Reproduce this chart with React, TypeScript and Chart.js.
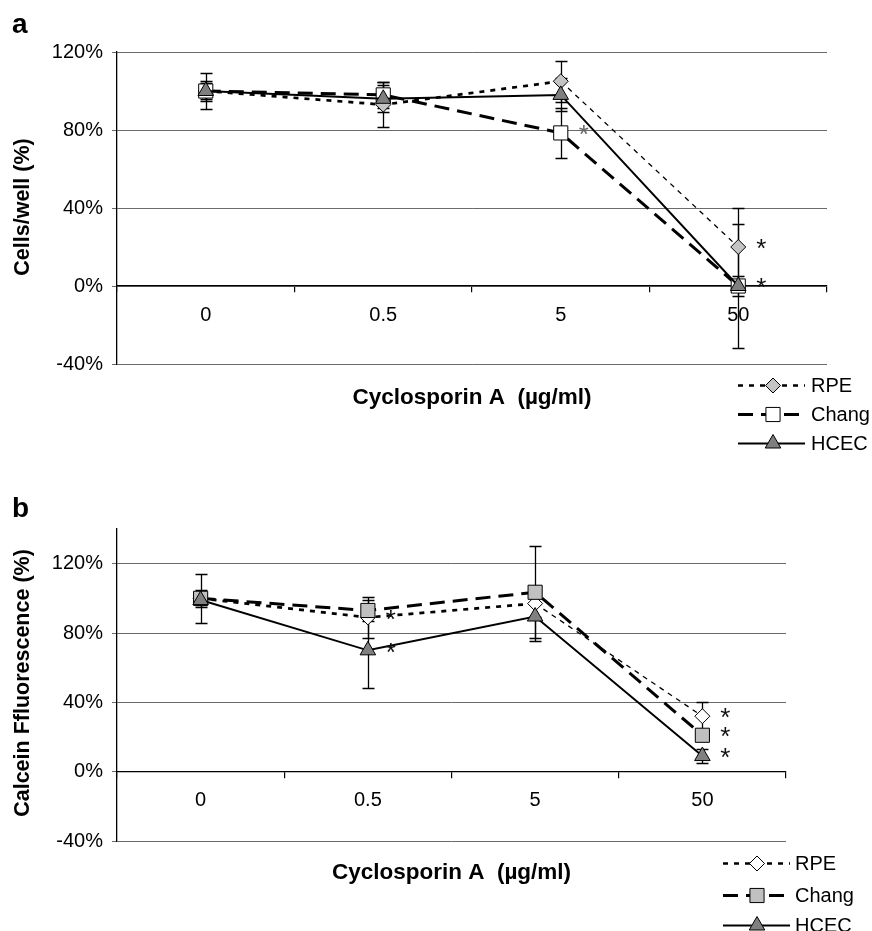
import React, { useEffect, useRef } from 'react';
import { Chart, registerables } from 'chart.js';

Chart.register(...registerables);

// ---------- data ----------
const categories = ['0', '0.5', '5', '50'];
const seriesNames = ['RPE', 'Chang', 'HCEC'];
const yTickValues = [-40, 0, 40, 80, 120];

// panel a: cells/well (%)
const rpeA = [100, 93, 105, 20];
const changA = [100, 98, 78.5, 0];
const hcecA = [100, 96, 98, 0];
const rpeErrA = [4, 11.5, 10.5, 20];
const changErrA = [5, 6.5, 13, 32];
const hcecErrA = [9, 7, 8.5, 5];
// significant points: [series index, category index]
const sigA = [[1, 2], [0, 3], [1, 3]];

// panel b: calcein fluorescence (%)
const rpeB = [100, 89, 97, 32];
const changB = [100, 93, 103.5, 21];
const hcecB = [99, 70, 89.5, 9];
const rpeErrB = [5, 12, 8, 8];
const changErrB = [14, 6, 26.5, 3];
const hcecErrB = [3, 21.5, 14, 4];
const sigB = [[0, 1], [2, 1], [0, 3], [1, 3], [2, 3]];

// ---------- styling ----------
const FONT = "'Liberation Sans', Arial, Helvetica, sans-serif";

type Cfg = {
  series: number[][];
  errs: number[][];
  sig: number[][];
  sigColors: string[];
  yMax: number;
  yTitle: string;
  panel: string;
  fills: string[];
  width: number;
  height: number;
  pad: { top: number; right: number; bottom: number };
  xTitleY: number;
  yTitleY: number;
  panelY: number;
  legend: { x0: number; x1: number; cx: number; tx: number; rows: number[] };
};

const seriesStyles = [
  { pointStyle: 'rectRot', radius: 7.5, dash: [5, 6], width: 2.7 },
  { pointStyle: 'rect', radius: 10, dash: [15, 8], width: 3 },
  { pointStyle: 'triangle', radius: 9, dash: [] as number[], width: 2 },
];

const cfgA: Cfg = {
  series: [rpeA, changA, hcecA],
  errs: [rpeErrA, changErrA, hcecErrA],
  sig: sigA,
  sigColors: ['#666', '#111', '#111'],
  yMax: 120,
  yTitle: 'Cells/well (%)',
  panel: 'a',
  fills: ['#c4c4c4', '#ffffff', '#7f7f7f'],
  width: 872,
  height: 460,
  pad: { top: 52, right: 45, bottom: 96 },
  xTitleY: 398,
  yTitleY: 207,
  panelY: 33,
  legend: { x0: 738, x1: 805, cx: 773, tx: 811, rows: [385, 414, 443] },
};

const cfgB: Cfg = {
  series: [rpeB, changB, hcecB],
  errs: [rpeErrB, changErrB, hcecErrB],
  sig: sigB,
  sigColors: ['#111', '#111', '#111', '#111', '#111'],
  yMax: 140,
  yTitle: 'Calcein Ffluorescence (%)',
  panel: 'b',
  fills: ['#ffffff', '#c0c0c0', '#808080'],
  width: 872,
  height: 491,
  pad: { top: 89, right: 86, bottom: 90 },
  xTitleY: 433,
  yTitleY: 243,
  panelY: 77,
  legend: { x0: 723, x1: 790, cx: 757, tx: 795, rows: [423, 455, 485] },
};

function drawMarker(ctx: CanvasRenderingContext2D, style: string, x: number, y: number, r: number, fill: string) {
  ctx.beginPath();
  if (style === 'rectRot') {
    ctx.moveTo(x, y - r);
    ctx.lineTo(x + r, y);
    ctx.lineTo(x, y + r);
    ctx.lineTo(x - r, y);
    ctx.closePath();
  } else if (style === 'rect') {
    const s = r * Math.SQRT1_2;
    ctx.rect(x - s, y - s, 2 * s, 2 * s);
  } else {
    const w = r * Math.sin((2 * Math.PI) / 3);
    ctx.moveTo(x, y - r);
    ctx.lineTo(x + w, y + r / 2);
    ctx.lineTo(x - w, y + r / 2);
    ctx.closePath();
  }
  ctx.fillStyle = fill;
  ctx.fill();
  ctx.setLineDash([]);
  ctx.lineWidth = 1;
  ctx.strokeStyle = '#000';
  ctx.stroke();
}

function makeOverlay(cfg: Cfg) {
  return {
    id: 'overlay',
    beforeDatasetsDraw(chart: any) {
      const ctx: CanvasRenderingContext2D = chart.ctx;
      const xs = chart.scales.x;
      const ys = chart.scales.y;
      ctx.save();
      ctx.strokeStyle = '#000';
      ctx.lineWidth = 1.3;
      ctx.setLineDash([]);
      cfg.series.forEach((vals, i) => {
        vals.forEach((v, j) => {
          const e = cfg.errs[i][j];
          if (!e) return;
          const x = Math.round(xs.getPixelForValue(j)) + 0.5;
          const y1 = Math.round(ys.getPixelForValue(v + e)) + 0.5;
          const y2 = Math.round(ys.getPixelForValue(v - e)) + 0.5;
          ctx.beginPath();
          ctx.moveTo(x, y1);
          ctx.lineTo(x, y2);
          ctx.moveTo(x - 6, y1);
          ctx.lineTo(x + 6, y1);
          ctx.moveTo(x - 6, y2);
          ctx.lineTo(x + 6, y2);
          ctx.stroke();
        });
      });
      ctx.restore();
    },
    afterDraw(chart: any) {
      const ctx: CanvasRenderingContext2D = chart.ctx;
      const xs = chart.scales.x;
      const ys = chart.scales.y;
      const area = chart.chartArea;
      ctx.save();
      ctx.fillStyle = '#000';

      // significance asterisks
      ctx.font = `26px ${FONT}`;
      ctx.textAlign = 'center';
      ctx.textBaseline = 'middle';
      cfg.sig.forEach(([si, ci], k) => {
        const x = xs.getPixelForValue(ci) + 23;
        const y = ys.getPixelForValue(cfg.series[si][ci]);
        ctx.fillStyle = cfg.sigColors[k] || '#111';
        ctx.fillText('*', x, y + 3);
      });
      ctx.fillStyle = '#000';

      // x-axis title
      ctx.font = `bold 22.5px ${FONT}`;
      ctx.textAlign = 'center';
      ctx.textBaseline = 'middle';
      ctx.fillText('Cyclosporin A  (\u00b5g/ml)', (area.left + area.right) / 2, cfg.xTitleY);

      // y-axis title
      ctx.font = `bold 21.5px ${FONT}`;
      ctx.save();
      ctx.translate(23, cfg.yTitleY);
      ctx.rotate(-Math.PI / 2);
      ctx.fillText(cfg.yTitle, 0, 0);
      ctx.restore();

      // panel label
      ctx.font = `bold 28px ${FONT}`;
      ctx.textAlign = 'left';
      ctx.textBaseline = 'alphabetic';
      ctx.fillText(cfg.panel, 12, cfg.panelY);

      // legend
      const L = cfg.legend;
      seriesNames.forEach((name, i) => {
        const st = seriesStyles[i];
        const y = Math.round(L.rows[i]) + 0.5;
        ctx.beginPath();
        ctx.setLineDash(st.dash);
        ctx.lineWidth = st.width;
        ctx.strokeStyle = '#000';
        ctx.moveTo(L.x0, y);
        ctx.lineTo(L.x1, y);
        ctx.stroke();
        ctx.setLineDash([]);
        drawMarker(ctx, st.pointStyle, L.cx, y, st.radius, cfg.fills[i]);
        ctx.fillStyle = '#000';
        ctx.font = `20px ${FONT}`;
        ctx.textAlign = 'left';
        ctx.textBaseline = 'middle';
        ctx.fillText(name, L.tx, y + 1);
      });
      ctx.restore();
    },
  };
}

function Panel({ cfg, top }: { cfg: Cfg; top: number }) {
  const ref = useRef<HTMLCanvasElement>(null);
  useEffect(() => {
    const canvas = ref.current;
    if (!canvas) return;
    const datasets = seriesNames.map((name, i) => {
      const st = seriesStyles[i];
      const ds: any = {
        label: name,
        data: cfg.series[i],
        borderColor: '#000',
        borderWidth: st.width,
        borderDash: st.dash,
        pointStyle: st.pointStyle,
        pointRadius: st.radius,
        pointBackgroundColor: cfg.fills[i],
        pointBorderColor: '#000',
        pointBorderWidth: 1,
        fill: false,
        tension: 0,
        order: 3 - i,
      };
      if (i === 0) {
        ds.segment = {
          borderWidth: (c: any) => (c.p1DataIndex === 3 ? 1.3 : undefined),
          borderDash: (c: any) => (c.p1DataIndex === 3 ? [5, 5] : undefined),
        };
      }
      return ds;
    });
    const chart = new Chart(canvas, {
      type: 'line',
      data: { labels: categories, datasets },
      options: {
        animation: false,
        responsive: false,
        maintainAspectRatio: false,
        layout: { padding: { left: 0, top: cfg.pad.top, right: cfg.pad.right, bottom: cfg.pad.bottom } },
        plugins: {
          legend: { display: false },
          tooltip: { enabled: false },
          title: { display: false },
        },
        scales: {
          x: {
            type: 'category',
            position: { y: 0 } as any,
            offset: true,
            grid: {
              offset: true,
              drawOnChartArea: false,
              drawTicks: true,
              tickLength: 6,
              color: '#000',
              lineWidth: 1.2,
            },
            border: { display: true, color: '#000', width: 1.3 },
            ticks: {
              color: '#000',
              font: { family: FONT, size: 20 },
              padding: 11,
              maxRotation: 0,
              autoSkip: false,
            },
          },
          y: {
            type: 'linear',
            min: -40,
            max: cfg.yMax,
            afterBuildTicks: (s: any) => {
              s.ticks = yTickValues.map((v) => ({ value: v }));
            },
            afterFit: (s: any) => {
              s.width = 117;
            },
            grid: { color: '#6a6a6a', lineWidth: 1, tickLength: 5, drawTicks: true },
            border: { display: true, color: '#000', width: 1.3 },
            ticks: {
              color: '#000',
              font: { family: FONT, size: 20 },
              padding: 9,
              callback: (v: any) => `${v}%`,
            },
          },
        },
      },
      plugins: [makeOverlay(cfg)],
    });
    return () => chart.destroy();
  }, [cfg]);
  return (
    <canvas
      ref={ref}
      width={cfg.width}
      height={cfg.height}
      style={{ position: 'absolute', left: 0, top, width: cfg.width, height: cfg.height, display: 'block' }}
    />
  );
}

export default function App() {
  return (
    <div style={{ position: 'absolute', left: 0, top: 0, width: 872, height: 931, background: '#fff', overflow: 'hidden' }}>
      <Panel cfg={cfgA} top={0} />
      <Panel cfg={cfgB} top={440} />
    </div>
  );
}
